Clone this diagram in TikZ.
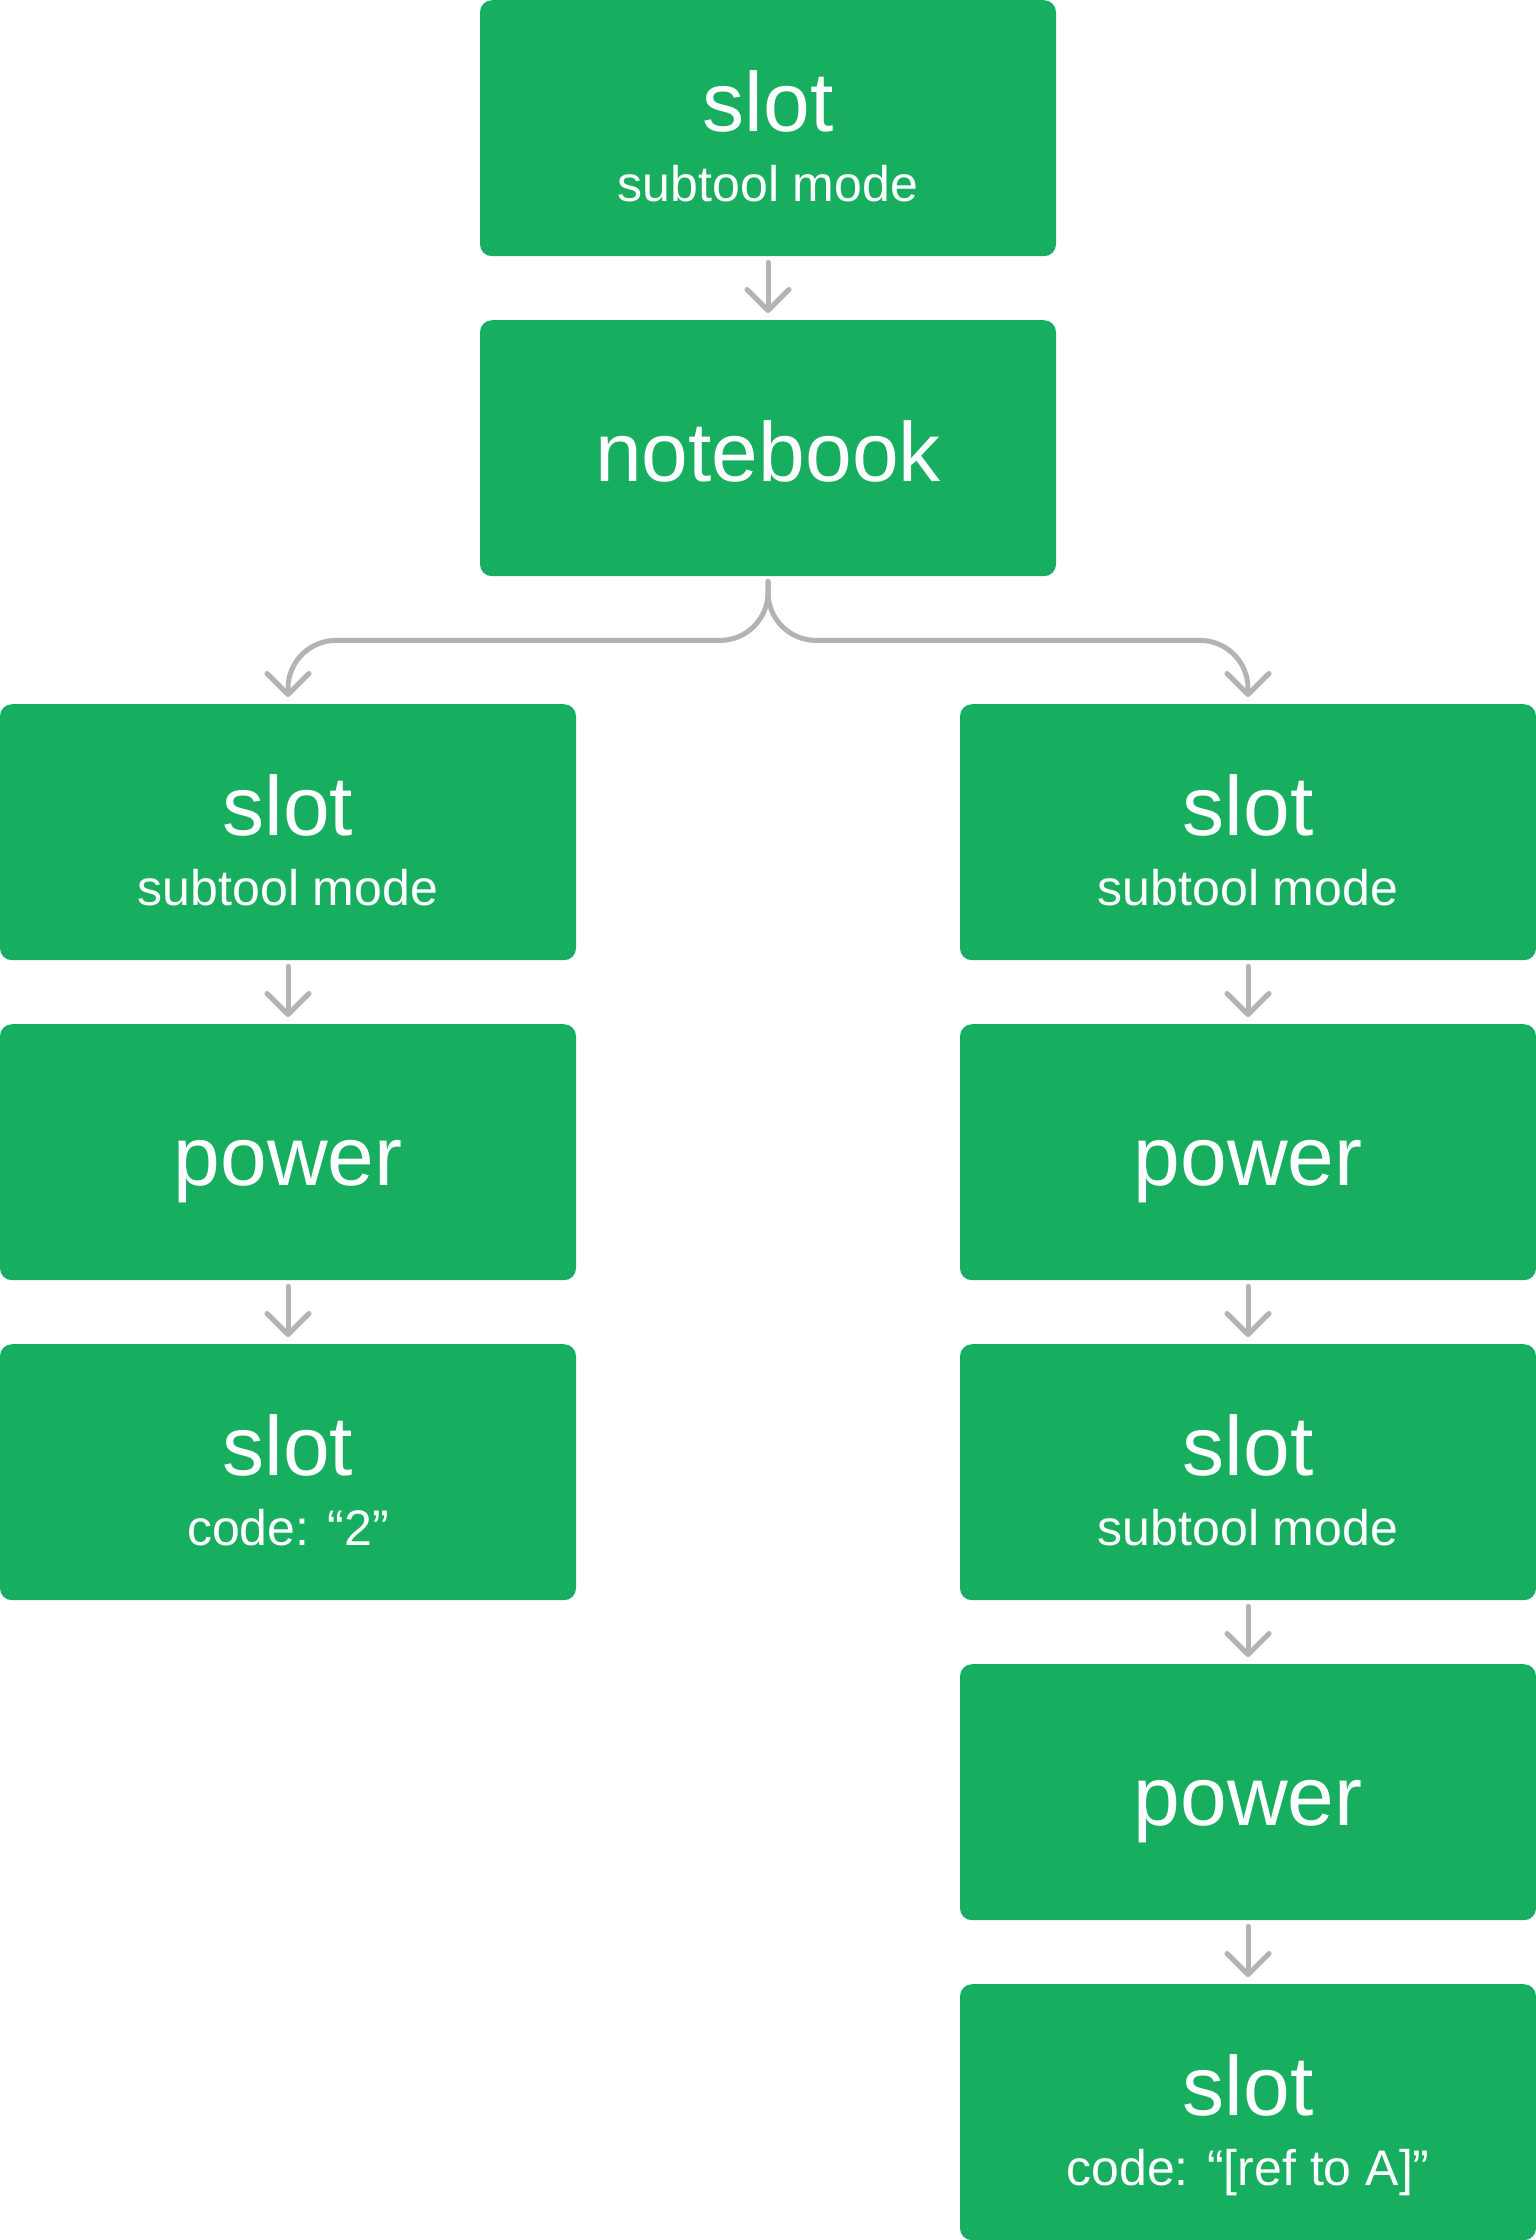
\documentclass[tikz,border=0pt]{standalone}
\usepackage{fontspec}
\setmainfont{Liberation Sans}
\usetikzlibrary{arrows.meta}
\definecolor{boxgreen}{HTML}{17AE5F}
\definecolor{conngray}{HTML}{B3B3B3}
\tikzset{
  gbox/.style={fill=boxgreen, draw=none, rounded corners=12pt, minimum width=576pt, minimum height=256pt, inner sep=0pt, anchor=north},
  bigtxt/.style={text=white, font=\fontsize{84}{100}\selectfont, anchor=base, inner sep=0pt},
  subtxt/.style={text=white, font=\fontsize{50}{60}\selectfont, anchor=base, inner sep=0pt},
  conn/.style={draw=conngray, line width=5pt, line cap=round, line join=round, -{Straight Barb[length=21pt,width=42pt,round]}}
}
\begin{document}
\begin{tikzpicture}[x=1pt,y=-1pt]
\useasboundingbox (0,0) rectangle (1536,2240);
% boxes
\node[gbox] (top) at (768,0) {};
\node[gbox] (nb) at (768,320) {};
\node[gbox] (l1) at (288,704) {};
\node[gbox] (l2) at (288,1024) {};
\node[gbox] (l3) at (288,1344) {};
\node[gbox] (r1) at (1248,704) {};
\node[gbox] (r2) at (1248,1024) {};
\node[gbox] (r3) at (1248,1344) {};
\node[gbox] (r4) at (1248,1664) {};
\node[gbox] (r5) at (1248,1984) {};
% texts
\node[bigtxt] (topa) at ([yshift=-131pt]top.north) {slot};
\node[subtxt] (topb) at ([yshift=-201pt]top.north) {subtool mode};
\node[bigtxt] (nba) at ([yshift=-161pt]nb.north) {notebook};
\node[bigtxt] (l1a) at ([yshift=-131pt]l1.north) {slot};
\node[subtxt] (l1b) at ([yshift=-201pt]l1.north) {subtool mode};
\node[bigtxt] (l2a) at ([yshift=-161pt]l2.north) {power};
\node[bigtxt] (l3a) at ([yshift=-131pt]l3.north) {slot};
\node[subtxt] (l3b) at ([yshift=-201pt]l3.north) {code: “2”};
\node[bigtxt] (r1a) at ([yshift=-131pt]r1.north) {slot};
\node[subtxt] (r1b) at ([yshift=-201pt]r1.north) {subtool mode};
\node[bigtxt] (r2a) at ([yshift=-161pt]r2.north) {power};
\node[bigtxt] (r3a) at ([yshift=-131pt]r3.north) {slot};
\node[subtxt] (r3b) at ([yshift=-201pt]r3.north) {subtool mode};
\node[bigtxt] (r4a) at ([yshift=-161pt]r4.north) {power};
\node[bigtxt] (r5a) at ([yshift=-131pt]r5.north) {slot};
\node[subtxt] (r5b) at ([yshift=-201pt]r5.north) {code: “[ref to A]”};
% connectors
\draw[conn] ([yshift=-6pt]top.south) -- ([yshift=7pt]nb.north);
\draw[conn, rounded corners=48pt] ([yshift=-5pt]nb.south) -- ++(0,59) -| ([yshift=7pt]l1.north);
\draw[conn, rounded corners=48pt] ([yshift=-5pt]nb.south) -- ++(0,59) -| ([yshift=7pt]r1.north);
\draw[conn] ([yshift=-6pt]l1.south) -- ([yshift=7pt]l2.north);
\draw[conn] ([yshift=-6pt]l2.south) -- ([yshift=7pt]l3.north);
\draw[conn] ([yshift=-6pt]r1.south) -- ([yshift=7pt]r2.north);
\draw[conn] ([yshift=-6pt]r2.south) -- ([yshift=7pt]r3.north);
\draw[conn] ([yshift=-6pt]r3.south) -- ([yshift=7pt]r4.north);
\draw[conn] ([yshift=-6pt]r4.south) -- ([yshift=7pt]r5.north);
\end{tikzpicture}
\end{document}
